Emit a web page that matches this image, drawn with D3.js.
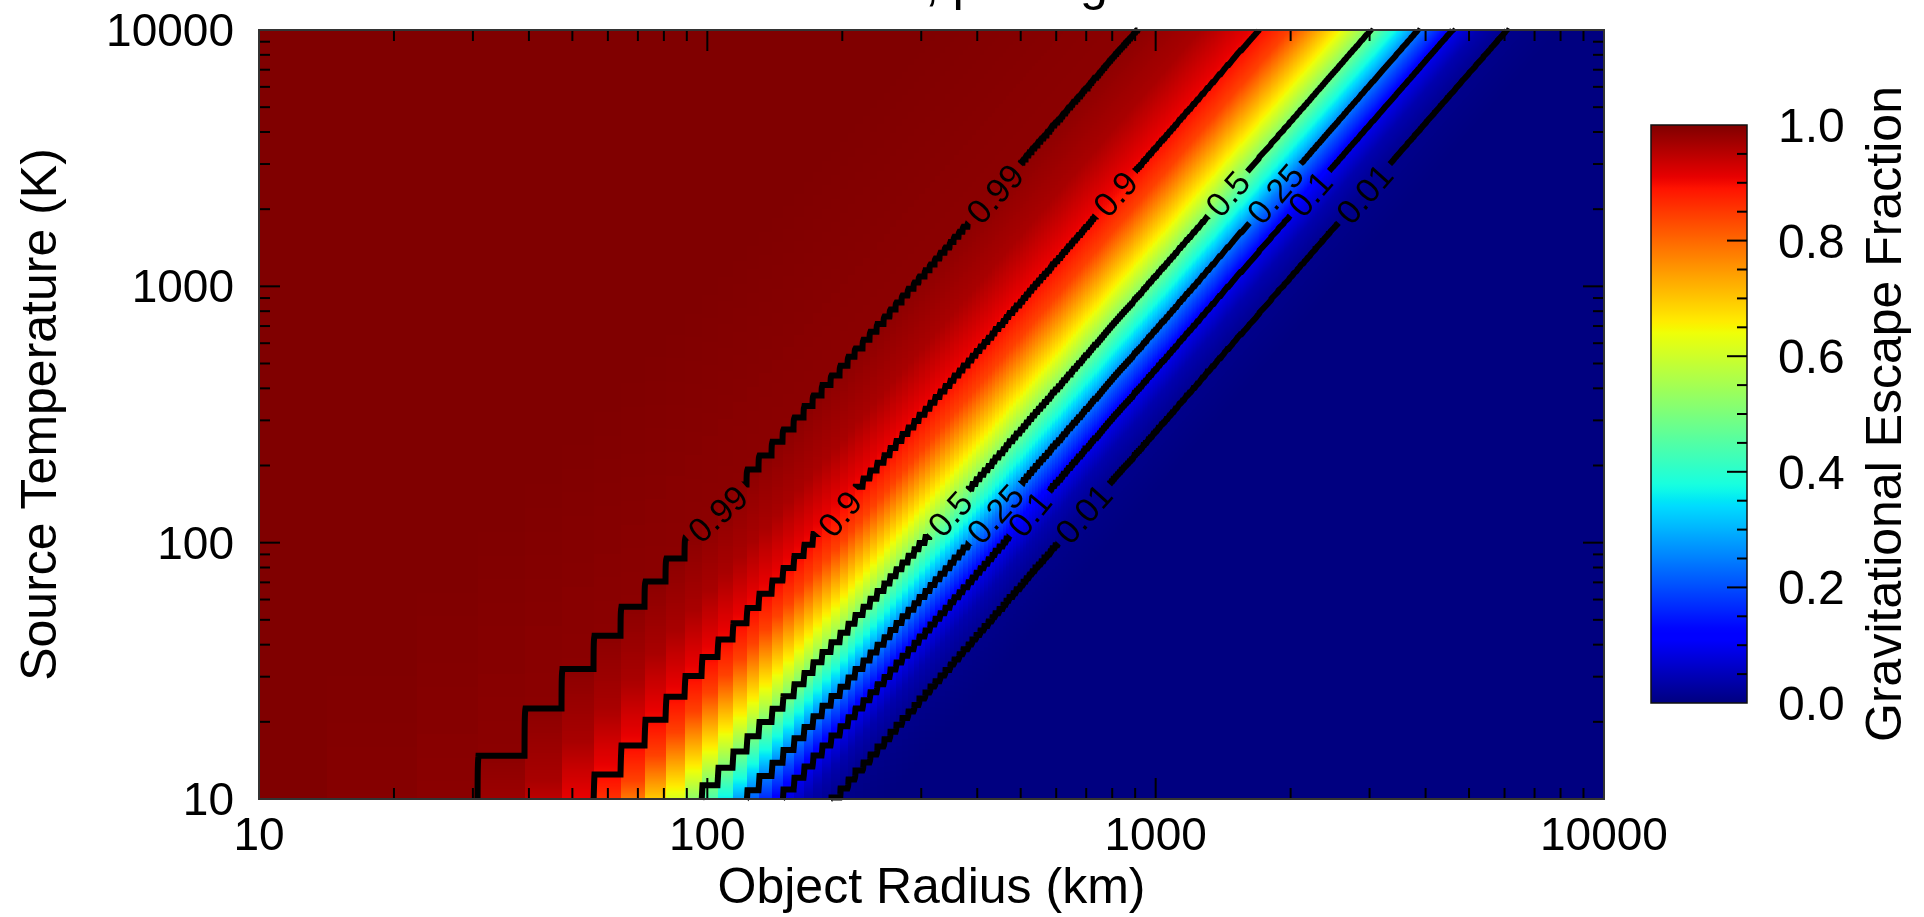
<!DOCTYPE html>
<html>
<head>
<meta charset="utf-8">
<script src="https://cdn.jsdelivr.net/npm/d3@7"></script>
<style>
  body { margin: 0; background: #fff; }
  #wrap { position: relative; width: 1924px; height: 917px; overflow: hidden; }
  #heat, #chart { position: absolute; left: 0; top: 0; }
  text { font-family: "Liberation Sans", Arial, Helvetica, sans-serif; }
</style>
</head>
<body>
<div id="wrap">
  <canvas id="heat" width="1924" height="917"></canvas>
  <svg id="chart" width="1924" height="917"></svg>
</div>
<script>
// escape fraction, against u = log10(R) - 0.5*log10(T)
const profileU = [0.50, 0.96, 1.10, 1.23, 1.30, 1.41, 1.48, 1.54, 1.585, 1.662, 1.72, 1.783, 1.90, 2.40];
const profileF = [1.00, 0.99, 0.965, 0.90, 0.84, 0.65, 0.50, 0.36, 0.25, 0.10, 0.04, 0.01, 0.0, 0.0];

// model radius grid (km), linear steps -> visible stripes at small radii
const radiusStart = 10;
const radiusStep = 8.325;

const contourLevels = [0.99, 0.9, 0.5, 0.25, 0.1, 0.01];
const contourNames = ["0.99", "0.9", "0.5", "0.25", "0.1", "0.01"];
const labelTemps = [2300, 130];   // temperatures where contour labels sit

const radiusDomain = [10, 10000];
const tempDomain = [10, 10000];
const barTicks = [0, 0.2, 0.4, 0.6, 0.8, 1.0];

const titleText = "Water Ice, \u03c1 = 1 g cm\u207b\u00b3";
const xTitle = "Object Radius (km)";
const yTitle = "Source Temperature (K)";
const barTitle = "Gravitational Escape Fraction";

// ---- scales
const x = d3.scaleLog().domain(radiusDomain).range([259, 1604]);
const y = d3.scaleLog().domain(tempDomain).range([799, 30]);
const cbY = d3.scaleLinear().domain([0, 1]).range([703, 125]);
const fracScale = d3.scaleLinear().domain(profileU).range(profileF).clamp(true);

// jet colour map
const jetR = d3.scaleLinear().domain([0, 0.35, 0.66, 0.89, 1]).range([0, 0, 1, 1, 0.5]).clamp(true);
const jetG = d3.scaleLinear().domain([0, 0.125, 0.375, 0.64, 0.91, 1]).range([0, 0, 1, 1, 0, 0]).clamp(true);
const jetB = d3.scaleLinear().domain([0, 0.11, 0.34, 0.65, 1]).range([0.5, 1, 1, 0, 0]).clamp(true);
const jet = t => d3.rgb(jetR(t) * 255, jetG(t) * 255, jetB(t) * 255);

function fraction(R, T) {
    let Rc = radiusStart + radiusStep * Math.round((R - radiusStart) / radiusStep);
    Rc = Math.max(radiusStart, Rc);
    return fracScale(Math.log10(Rc) - 0.5 * Math.log10(T));
}

// ---- field on the pixel grid of the plot
const x0 = x.range()[0], y0 = y.range()[1];
const nx = Math.round(x.range()[1] - x0);
const ny = Math.round(y.range()[0] - y0);
const grid = new Float64Array(nx * ny);
for (let j = 0; j < ny; j++) {
    const T = y.invert(y0 + j + 0.5);
    for (let i = 0; i < nx; i++) {
        grid[j * nx + i] = fraction(x.invert(x0 + i + 0.5), T);
    }
}

// heatmap
const lut = d3.range(0, 1001).map(k => jet(k / 1000));
const ctx = document.getElementById("heat").getContext("2d");
const img = ctx.createImageData(nx, ny);
for (let k = 0; k < nx * ny; k++) {
    const c = lut[Math.round(grid[k] * 1000)];
    img.data[4 * k] = c.r;
    img.data[4 * k + 1] = c.g;
    img.data[4 * k + 2] = c.b;
    img.data[4 * k + 3] = 255;
}
ctx.putImageData(img, x0, y0);

const svg = d3.select("#chart");
const defs = svg.append("defs");

// ---- contours
const contours = d3.contours().size([nx, ny]).thresholds(contourLevels)(grid);
const onEdge = p => p[0] <= 0 || p[0] >= nx || p[1] <= 0 || p[1] >= ny;

const lines = []; // {value, pts}
contours.forEach(c => {
    c.coordinates.forEach(poly => poly.forEach(ring => {
        let cur = [];
        for (let k = 0; k < ring.length - 1; k++) {
            const a = ring[k], b = ring[k + 1];
            if (onEdge(a) && onEdge(b)) {
                if (cur.length > 1) lines.push({value: c.value, pts: cur});
                cur = [];
                continue;
            }
            if (!cur.length) cur.push([a[0] + x0, a[1] + y0]);
            cur.push([b[0] + x0, b[1] + y0]);
        }
        if (cur.length > 1) lines.push({value: c.value, pts: cur});
    }));
});

const mask = defs.append("mask").attr("id", "gaps")
    .attr("maskUnits", "userSpaceOnUse")
    .attr("x", 0).attr("y", 0).attr("width", 1924).attr("height", 917);
mask.append("rect").attr("width", 1924).attr("height", 917).attr("fill", "#fff");

svg.append("g")
    .attr("mask", "url(#gaps)")
    .attr("fill", "none")
    .attr("stroke", "#000")
    .attr("stroke-width", 6)
    .attr("stroke-linejoin", "miter")
    .selectAll("path")
    .data(lines)
    .join("path")
    .attr("d", d => "M" + d.pts.map(p => p[0].toFixed(2) + "," + p[1].toFixed(2)).join("L"));

// label placement on each contour
const labels = [];
contourLevels.forEach((lv, li) => {
    const own = lines.filter(l => Math.abs(l.value - lv) < 1e-9);
    labelTemps.forEach(T => {
        const ty = y(T);
        let best = null;
        own.forEach(l => l.pts.forEach((p, k) => {
            const dd = Math.abs(p[1] - ty);
            if (!best || dd < best.dd) best = {dd, l, k};
        }));
        if (!best) return;
        const pts = best.l.pts, k = best.k, w = 14;
        let a = k, b = k;
        while (a > 0 && Math.hypot(pts[a][0] - pts[k][0], pts[a][1] - pts[k][1]) < w) a--;
        while (b < pts.length - 1 && Math.hypot(pts[b][0] - pts[k][0], pts[b][1] - pts[k][1]) < w) b++;
        let dx = pts[b][0] - pts[a][0], dy = pts[b][1] - pts[a][1];
        if (dx < 0) { dx = -dx; dy = -dy; }
        let ang = Math.atan2(dy, dx) * 180 / Math.PI;
        if (dx < 1e-6) ang = -90;
        labels.push({name: contourNames[li], px: pts[k][0], py: pts[k][1], ang});
    });
});

const labelText = svg.append("g")
    .selectAll("text")
    .data(labels)
    .join("text")
    .attr("transform", d => `translate(${d.px},${d.py}) rotate(${d.ang})`)
    .attr("text-anchor", "middle")
    .attr("dy", "0.36em")
    .attr("font-size", 34)
    .attr("fill", "#000")
    .text(d => d.name);

labelText.each(function (d) { d.len = this.getComputedTextLength(); });
mask.selectAll("rect.gap")
    .data(labels)
    .join("rect")
    .attr("class", "gap")
    .attr("x", d => -d.len / 2 - 6)
    .attr("y", -15)
    .attr("width", d => d.len + 12)
    .attr("height", 30)
    .attr("fill", "#000")
    .attr("transform", d => `translate(${d.px},${d.py}) rotate(${d.ang})`);

// ---- axes ticks (inward, all four sides)
const isMajor = v => Math.abs(Math.log10(v) - Math.round(Math.log10(v))) < 1e-9;
const tickLen = v => isMajor(v) ? 21 : 11;
const ticks = svg.append("g").attr("stroke", "#000").attr("stroke-width", 2);
const xt = x.ticks().filter(v => v > radiusDomain[0] && v < radiusDomain[1]);
const yt = y.ticks().filter(v => v > tempDomain[0] && v < tempDomain[1]);

ticks.selectAll("line.xb").data(xt).join("line").attr("class", "xb")
    .attr("x1", d => x(d)).attr("x2", d => x(d))
    .attr("y1", y.range()[0]).attr("y2", d => y.range()[0] - tickLen(d));
ticks.selectAll("line.xt").data(xt).join("line").attr("class", "xt")
    .attr("x1", d => x(d)).attr("x2", d => x(d))
    .attr("y1", y.range()[1]).attr("y2", d => y.range()[1] + tickLen(d));
ticks.selectAll("line.yl").data(yt).join("line").attr("class", "yl")
    .attr("y1", d => y(d)).attr("y2", d => y(d))
    .attr("x1", x.range()[0]).attr("x2", d => x.range()[0] + tickLen(d));
ticks.selectAll("line.yr").data(yt).join("line").attr("class", "yr")
    .attr("y1", d => y(d)).attr("y2", d => y(d))
    .attr("x1", x.range()[1]).attr("x2", d => x.range()[1] - tickLen(d));

// plot frame
svg.append("rect")
    .attr("x", x0).attr("y", y0).attr("width", nx).attr("height", ny)
    .attr("fill", "none").attr("stroke", "#333").attr("stroke-width", 2);

// tick labels
svg.append("g").selectAll("text")
    .data(x.ticks().filter(isMajor))
    .join("text")
    .attr("x", d => x(d)).attr("y", 850)
    .attr("text-anchor", "middle")
    .attr("font-size", 46)
    .text(d => d3.format("d")(d));

svg.append("g").selectAll("text")
    .data(y.ticks().filter(isMajor))
    .join("text")
    .attr("x", 234).attr("y", d => y(d) + 16)
    .attr("text-anchor", "end")
    .attr("font-size", 46)
    .text(d => d3.format("d")(d));

// axis titles
svg.append("text")
    .attr("x", (x.range()[0] + x.range()[1]) / 2).attr("y", 903)
    .attr("text-anchor", "middle")
    .attr("font-size", 50)
    .text(xTitle);

svg.append("text")
    .attr("transform", `translate(56,${(y.range()[0] + y.range()[1]) / 2}) rotate(-90)`)
    .attr("text-anchor", "middle")
    .attr("font-size", 50)
    .text(yTitle);

// title (mostly above the page edge)
const title = svg.append("text")
    .attr("x", 0).attr("y", 0)
    .attr("font-size", 50)
    .text(titleText);
const commaX = title.node().getStartPositionOfChar(titleText.indexOf(",")).x;
title.attr("x", 925 - commaX);

// ---- colour bar
const grad = defs.append("linearGradient").attr("id", "jetGrad")
    .attr("x1", 0).attr("y1", 1).attr("x2", 0).attr("y2", 0);
grad.selectAll("stop")
    .data(d3.range(0, 1.0001, 0.01))
    .join("stop")
    .attr("offset", d => d)
    .attr("stop-color", d => jet(d).formatHex());

const cbX0 = 1651, cbX1 = 1747;
svg.append("rect")
    .attr("x", cbX0).attr("y", cbY(1))
    .attr("width", cbX1 - cbX0).attr("height", cbY(0) - cbY(1))
    .attr("fill", "url(#jetGrad)")
    .attr("stroke", "#111").attr("stroke-width", 1.5);

const cbTicks = d3.range(0, 21).map(k => k / 20).filter(v => v > 0 && v < 1);
svg.append("g").attr("stroke", "#000").attr("stroke-width", 2)
    .selectAll("line")
    .data(cbTicks)
    .join("line")
    .attr("x1", cbX1).attr("x2", d => cbX1 - (Math.round(d * 20) % 4 === 0 ? 20 : 10))
    .attr("y1", d => cbY(d)).attr("y2", d => cbY(d));

svg.append("g").selectAll("text")
    .data(barTicks)
    .join("text")
    .attr("x", 1778).attr("y", d => cbY(d) + 17)
    .attr("font-size", 48)
    .text(d => d3.format(".1f")(d));

svg.append("text")
    .attr("transform", `translate(1901,${(cbY(0) + cbY(1)) / 2}) rotate(-90)`)
    .attr("text-anchor", "middle")
    .attr("font-size", 50)
    .text(barTitle);
</script>
</body>
</html>
